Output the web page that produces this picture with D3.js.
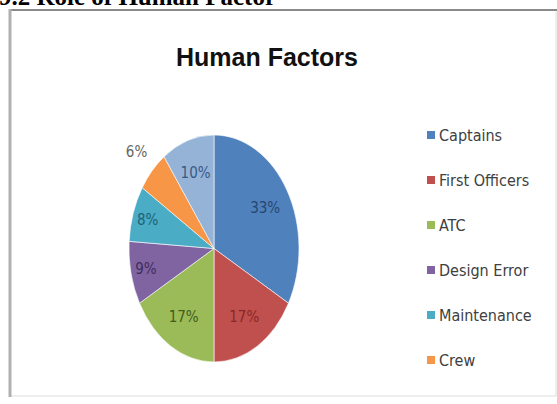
<!DOCTYPE html>
<html>
<head>
<meta charset="utf-8">
<script src="https://cdn.jsdelivr.net/npm/d3@7"></script>
<style>
  body { margin: 0; background: #fff; }
  svg { display: block; }
</style>
</head>
<body>
<div id="chart"></div>
<script>
// data
const categories = ["Captains", "First Officers", "ATC", "Design Error", "Maintenance", "Crew", "Others"];
const shares = [33, 17, 17, 9, 8, 6, 10];
const sliceColors = ["#4F81BD", "#C0504D", "#9BBB59", "#8064A2", "#4BACC6", "#F79646", "#95B3D7"];
const labelColors = ["#27466f", "#8a2825", "#435d1c", "#3f2d5a", "#1f6274", "#666666", "#3a5a86"];

const width = 557, height = 404;

const svg = d3.select("#chart").append("svg")
  .attr("width", width)
  .attr("height", height);

// heading of the page, cut at the top
svg.append("text")
  .attr("x", -1)
  .attr("y", 5)
  .style("font", "bold 25px 'Liberation Serif', 'Times New Roman', serif")
  .attr("fill", "#000")
  .text("9.2 Role of Human Factor");

// chart frame
svg.append("rect")
  .attr("x", 10).attr("y", 10)
  .attr("width", 546).attr("height", 386)
  .attr("fill", "#fff")
  .attr("stroke", "#ddd")
  .attr("stroke-width", 1);
svg.append("line")
  .attr("x1", 9).attr("x2", 557).attr("y1", 10).attr("y2", 10)
  .attr("stroke", "#8a8a8a").attr("stroke-width", 2);
svg.append("line")
  .attr("x1", 10).attr("x2", 10).attr("y1", 9).attr("y2", 397)
  .attr("stroke", "#b0b0b0").attr("stroke-width", 3);

// the frame hides whatever runs past its bottom edge
svg.append("clipPath")
  .attr("id", "frameClip")
  .append("rect")
  .attr("x", 11).attr("y", 11)
  .attr("width", 545).attr("height", 384);

const inner = svg.append("g").attr("clip-path", "url(#frameClip)");

inner.append("text")
  .attr("x", 267)
  .attr("y", 66)
  .attr("text-anchor", "middle")
  .style("font", "bold 25px 'Liberation Sans', Arial, sans-serif")
  .attr("fill", "#111")
  .text("Human Factors");

// pie, stretched into an ellipse like the picture
const cx = 214, cy = 248.5, rx = 85, ry = 113.5;

const pie = d3.pie().sort(null).value(d => d);
const arcs = pie(shares);

const arc = d3.arc().innerRadius(0).outerRadius(rx);

const g = inner.append("g")
  .attr("transform", `translate(${cx},${cy}) scale(1,${ry / rx})`);

g.selectAll("path")
  .data(arcs)
  .join("path")
  .attr("d", arc)
  .attr("fill", (d, i) => sliceColors[i])
  .attr("stroke", "#fff")
  .attr("stroke-width", 0.6)
  .attr("vector-effect", "non-scaling-stroke");

// label radius as fraction of the radius (small slices pushed out)
function labelFrac(v) {
  if (v < 7) return 1.25;
  if (v < 10) return 0.82;
  return 0.7;
}

inner.append("g")
  .selectAll("text")
  .data(arcs)
  .join("text")
  .attr("x", d => {
    const a = (d.startAngle + d.endAngle) / 2;
    return cx + Math.sin(a) * rx * labelFrac(d.data);
  })
  .attr("y", d => {
    const a = (d.startAngle + d.endAngle) / 2;
    return cy - Math.cos(a) * ry * labelFrac(d.data);
  })
  .attr("dy", "0.35em")
  .attr("text-anchor", "middle")
  .style("font", "15px 'Liberation Sans Narrow', 'DejaVu Sans Condensed', sans-serif")
  .attr("fill", (d, i) => labelColors[i])
  .text(d => d.data + "%");

// legend (last entry falls below the frame, as in the picture)
const legendY = d3.scalePoint()
  .domain(categories)
  .range([135, 135 + 45 * (categories.length - 1)]);

const legend = inner.append("g")
  .selectAll("g")
  .data(categories)
  .join("g")
  .attr("transform", d => `translate(427,${legendY(d)})`);

legend.append("rect")
  .attr("x", 0).attr("y", -4)
  .attr("width", 8).attr("height", 8)
  .attr("fill", (d, i) => sliceColors[i]);

legend.append("text")
  .attr("x", 12)
  .attr("dy", "0.35em")
  .style("font", "16px 'Liberation Sans Narrow', 'DejaVu Sans Condensed', sans-serif")
  .attr("fill", "#404040")
  .text(d => d);
</script>
</body>
</html>
